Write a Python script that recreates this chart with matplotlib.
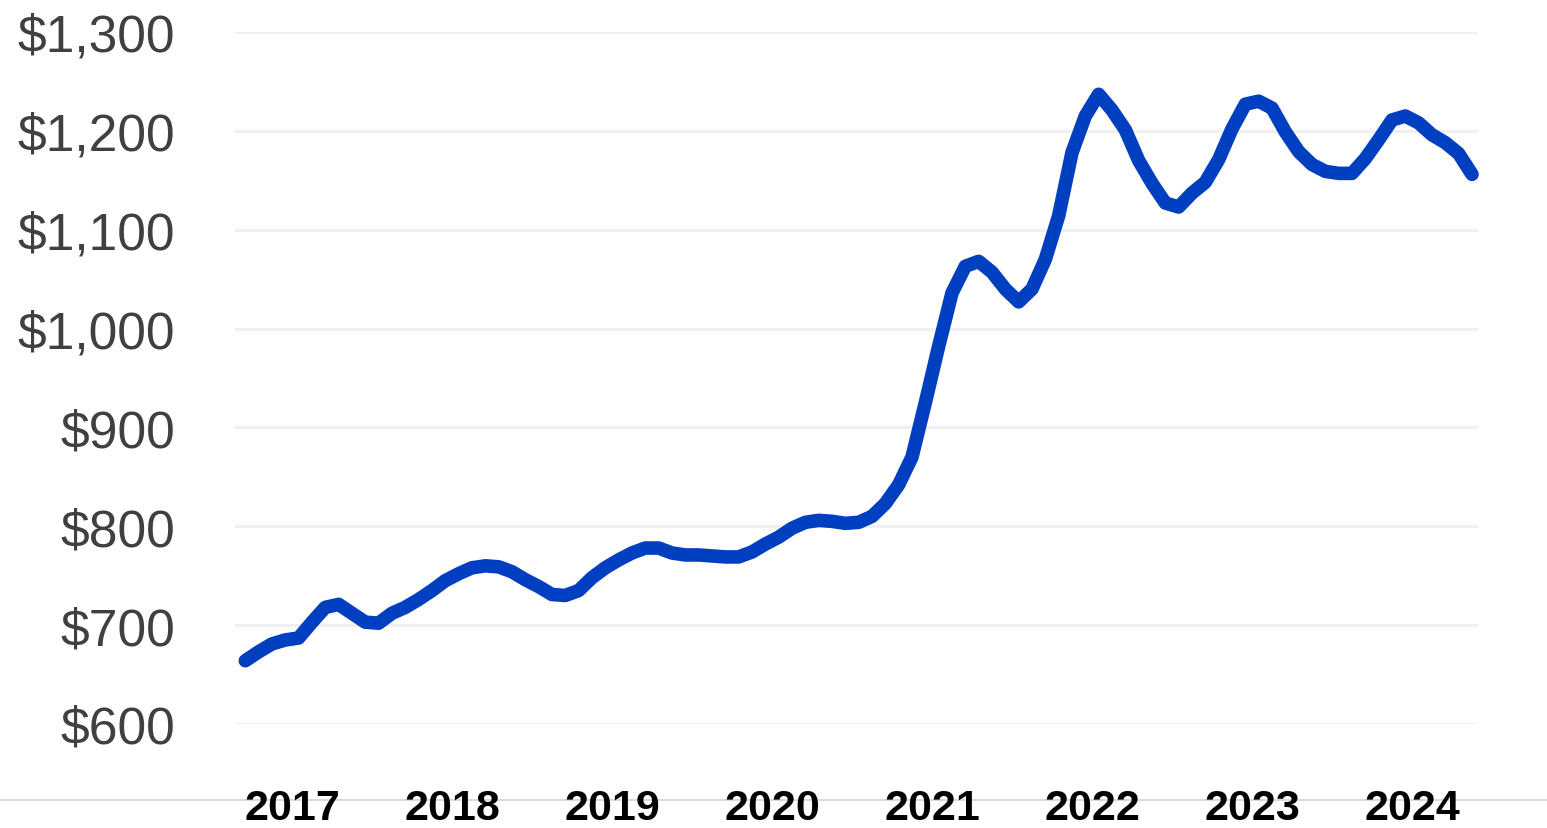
import matplotlib
matplotlib.use("Agg")
import matplotlib.pyplot as plt
from matplotlib.lines import Line2D
from matplotlib.ticker import FuncFormatter
import pandas as pd

# monthly average, March 2017 .. November 2024
start_month = "2017-03"
values = [
    664, 673, 681, 685, 687, 703, 718, 721, 712, 703,
    702, 712, 718, 726, 735, 745, 752, 758, 760, 759,
    754, 746, 739, 731, 730, 735, 748, 758, 766, 773,
    778, 778, 773, 771, 771, 770, 769, 769, 774, 782,
    789, 798, 804, 806, 805, 803, 804, 810, 823, 842,
    870, 925, 982, 1036, 1063, 1068, 1057, 1040, 1027, 1040,
    1070, 1114, 1178, 1215, 1237, 1221, 1201, 1170, 1147, 1127,
    1123, 1137, 1148, 1171, 1202, 1227, 1230, 1223, 1199, 1179,
    1166, 1159, 1157, 1157, 1172, 1191, 1211, 1215, 1208, 1196,
    1188, 1177, 1156,
]
years = [2017, 2018, 2019, 2020, 2021, 2022, 2023, 2024]
y_ticks = [600, 700, 800, 900, 1000, 1100, 1200, 1300]

months = pd.date_range(start_month, periods=len(values), freq="MS")
# place each month at its midpoint, in fractional years
x = [d.year + (d.month - 0.5) / 12 for d in months]

plt.rcParams["font.family"] = ["Liberation Sans", "DejaVu Sans"]

fig = plt.figure(figsize=(15.47, 8.29), dpi=100)
ax = fig.add_axes([235 / 1547, 104 / 829, 1243 / 1547, 692 / 829])

ax.plot(x, values, color="#003fc0", linewidth=9.8, solid_joinstyle="round",
        solid_capstyle="round", clip_on=False, zorder=3)

ax.set_xlim(2017.144, 2024.9125)
ax.set_ylim(600, 1300)
ax.set_yticks(y_ticks)
ax.yaxis.set_major_formatter(FuncFormatter(lambda v, p: "${:,.0f}".format(v)))
ax.set_xticks([y + 0.5 for y in years])
ax.set_xticklabels([str(y) for y in years])

ax.grid(axis="y", color="#f0f0f0", linewidth=2.2)
ax.set_axisbelow(True)
for s in ax.spines.values():
    s.set_visible(False)

ax.tick_params(axis="y", length=0, pad=43, labelsize=37.2, labelcolor="#404040")
ax.tick_params(axis="x", length=0, pad=46, labelsize=31)
for lbl in ax.get_xticklabels():
    lbl.set_fontweight("bold")
    lbl.set_color("black")

# thin rule across the bottom behind the year labels
fig.add_artist(Line2D([0, 1], [28 / 829, 28 / 829], color="#d9d9d9",
                      linewidth=1.4, transform=fig.transFigure, zorder=0))

fig.savefig("out.png", dpi=100)
